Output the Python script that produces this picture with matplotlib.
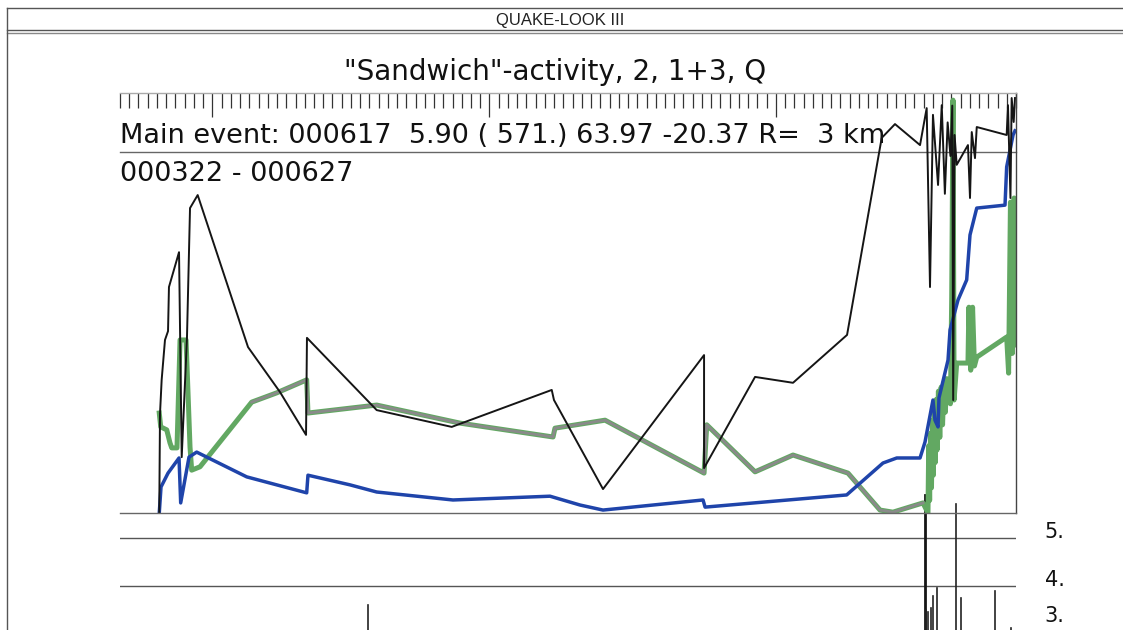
import numpy as np
import matplotlib
matplotlib.use("Agg")
import matplotlib.pyplot as plt

W, H = 1123, 630

# Observation window
START = np.datetime64("2000-03-22")
END = np.datetime64("2000-06-27")

header_text = "QUAKE-LOOK III"
title_text = '"Sandwich"-activity, 2, 1+3, Q'
main_event_text = "Main event: 000617  5.90 ( 571.) 63.97 -20.37 R=  3 km"
period_text = "000322 - 000627"

# Activity curves: day since START vs. normalised level
black_day = [4.25, 4.33, 4.51, 4.87, 5.20, 5.30, 6.39, 6.68, 7.25, 7.58, 8.41,
             13.86, 17.32, 20.14, 20.24, 27.79, 35.91, 46.74, 46.98, 52.29,
             63.23, 63.23, 68.75, 72.86, 78.71, 82.46, 83.90, 86.61, 87.33,
             87.69, 88.01, 88.56, 88.96, 89.30, 89.60, 89.90, 90.10, 90.20,
             90.35, 90.58, 91.80, 92.02, 92.21, 92.56, 92.75, 95.99, 96.13,
             96.40, 96.53, 96.75, 96.89]
black_val = [0.000, 0.236, 0.317, 0.412, 0.433, 0.538, 0.621, 0.133, 0.417,
             0.726, 0.757, 0.395, 0.288, 0.186, 0.417, 0.245, 0.205, 0.293,
             0.269, 0.057, 0.376, 0.107, 0.324, 0.310, 0.424, 0.893, 0.926,
             0.876, 0.964, 0.538, 0.948, 0.781, 0.971, 0.760, 0.930, 0.850,
             0.970, 0.269, 0.900, 0.829, 0.876, 0.750, 0.907, 0.845, 0.919,
             0.900, 0.971, 0.750, 0.988, 0.931, 0.988]

green_day = [4.25, 4.41, 5.06, 5.41, 5.60, 6.17, 6.50, 7.15, 7.58, 7.76, 8.66,
             14.26, 16.96, 20.21, 20.35, 27.79, 36.81, 46.88, 47.09, 52.51,
             63.23, 63.52, 68.75, 72.86, 78.81, 82.28, 83.68, 86.93, 87.47,
             87.55, 87.65, 87.75, 87.85, 87.95, 88.05, 88.15, 88.25, 88.35,
             88.45, 88.60, 88.75, 88.90, 89.05, 89.20, 89.35, 89.50, 89.64,
             89.90, 90.04, 90.18, 90.30, 90.58, 91.80, 91.90, 92.10, 92.30,
             92.50, 92.75, 95.99, 96.20, 96.40, 96.60, 96.80, 96.89]
green_val = [0.238, 0.205, 0.198, 0.167, 0.155, 0.155, 0.412, 0.412, 0.157,
             0.102, 0.110, 0.264, 0.286, 0.317, 0.238, 0.257, 0.214, 0.181,
             0.202, 0.221, 0.095, 0.210, 0.098, 0.138, 0.095, 0.007, 0.002,
             0.024, 0.000, 0.160, 0.030, 0.190, 0.060, 0.220, 0.090, 0.250,
             0.120, 0.270, 0.150, 0.290, 0.180, 0.300, 0.210, 0.310, 0.240,
             0.320, 0.317, 0.260, 0.514, 0.983, 0.269, 0.357, 0.357, 0.490,
             0.340, 0.490, 0.350, 0.371, 0.419, 0.333, 0.740, 0.380, 0.750,
             0.400]

blue_day = [4.25, 4.44, 5.20, 6.39, 6.57, 7.47, 8.30, 13.72, 20.21, 20.35,
            24.90, 27.79, 36.05, 46.55, 49.80, 52.29, 63.12, 63.34, 78.67,
            79.03, 82.60, 84.09, 86.61, 87.15, 88.01, 88.23, 88.56, 88.66,
            89.64, 89.86, 90.72, 91.66, 92.02, 92.75, 95.81, 95.99, 96.68,
            96.89]
blue_val = [0.000, 0.062, 0.095, 0.131, 0.024, 0.133, 0.145, 0.086, 0.048,
            0.090, 0.067, 0.050, 0.031, 0.040, 0.019, 0.007, 0.031, 0.014,
            0.043, 0.050, 0.119, 0.131, 0.131, 0.169, 0.269, 0.221, 0.205,
            0.274, 0.364, 0.436, 0.507, 0.555, 0.662, 0.726, 0.733, 0.824,
            0.900, 0.910]

# Stretch of the green curve that carries the grey overlay
gray_span = (13.0, 87.0)

# Events (day, magnitude) shown in the lower strip
mag_day = [26.80, 87.15, 87.30, 87.50, 87.75, 88.05, 88.45, 90.50, 91.05,
           94.70, 96.50]
mag_val = [3.60, 5.90, 3.50, 3.45, 3.55, 3.80, 3.96, 5.70, 3.75, 3.90, 3.12]
mag_levels = [5, 4, 3]
mag_labels = ["5.", "4.", "3."]

n_days = int((END - START) / np.timedelta64(1, "D"))
month_starts = np.arange(np.datetime64("2000-04"), np.datetime64("2000-07"),
                         np.timedelta64(1, "M")).astype("datetime64[D]")
month_days = ((month_starts - START) / np.timedelta64(1, "D")).tolist()

C_BLACK = "#151515"
C_GREEN = "#62a862"
C_GRAY = "#8a8a8a"
C_BLUE = "#1f44aa"
C_FRAME = "#555555"

plt.rcParams["font.family"] = ["DejaVu Sans"]

fig = plt.figure(figsize=(W / 100, H / 100), dpi=100)


def px_rect(x0, y0, x1, y1):
    return [x0 / W, 1 - y1 / H, (x1 - x0) / W, (y1 - y0) / H]


# Page frame and text, in pixel coordinates
ax_bg = fig.add_axes([0, 0, 1, 1], zorder=0)
ax_bg.set_xlim(0, W)
ax_bg.set_ylim(H, 0)
ax_bg.axis("off")
ax_bg.plot([7, W], [8, 8], color=C_FRAME, lw=1.0)
ax_bg.plot([7, W], [30, 30], color=C_FRAME, lw=1.0)
ax_bg.plot([7, W], [33, 33], color="#888", lw=1.0)
ax_bg.plot([7, 7], [8, H], color=C_FRAME, lw=1.0)
ax_bg.text(560, 21, header_text, ha="center", va="center", fontsize=12,
           family=["Liberation Sans Narrow", "Liberation Sans"], color="#222")
ax_bg.text(555, 80, title_text, ha="center", va="baseline", fontsize=20,
           color="#111")
ax_bg.text(120, 143, main_event_text, ha="left", va="baseline",
           fontsize=19.5, color="#111")
ax_bg.plot([120, 1016], [152, 152], color="#666", lw=1.0)
ax_bg.text(120, 181, period_text, ha="left", va="baseline", fontsize=19.5,
           color="#111")

# Activity panel
ax = fig.add_axes(px_rect(120, 93, 1016, 513), zorder=2)
ax.patch.set_visible(False)
ax.set_xlim(0, n_days)
ax.set_ylim(0, 1)
ax.set_yticks([])
ax.set_xticks(month_days)
ax.set_xticks(np.arange(0, n_days + 1), minor=True)
ax.tick_params(axis="x", which="both", top=True, bottom=False,
               labeltop=False, labelbottom=False, direction="in",
               color="#333", width=0.9)
ax.tick_params(axis="x", which="major", length=17)
ax.tick_params(axis="x", which="minor", length=10.5)
ax.spines["left"].set_visible(False)
ax.spines["top"].set_color("#aaa")
ax.spines["right"].set_color("#444")
ax.spines["bottom"].set_color("#666")
for s in ("top", "right", "bottom"):
    ax.spines[s].set_linewidth(1.0)

gd = np.array(green_day)
gv = np.array(green_val)
ax.plot(gd, gv, color=C_GREEN, lw=3.6, solid_joinstyle="round")
sel = (gd >= gray_span[0]) & (gd <= gray_span[1])
ax.plot(gd[sel], gv[sel], color=C_GRAY, lw=2.0, solid_joinstyle="round")
ax.plot(blue_day, blue_val, color=C_BLUE, lw=2.5, solid_joinstyle="round")
ax.plot(black_day, black_val, color=C_BLACK, lw=1.4, clip_on=False)

# Magnitude strip
ax_m = fig.add_axes(px_rect(120, 513, 1016, H), zorder=1)
ax_m.patch.set_visible(False)
ax_m.axis("off")
ax_m.set_xlim(0, n_days)
m_lo, m_hi = 5 - (H - 538) / 48, 5 + (538 - 513) / 48
ax_m.set_ylim(m_lo, m_hi)
for lev in mag_levels:
    ax_m.plot([0, n_days], [lev, lev], color="#555", lw=1.0)
main_mag = max(mag_val)
for d, m in zip(mag_day, mag_val):
    big = m == main_mag
    ax_m.plot([d, d], [m_lo, m], color=C_BLACK if big else "#222",
              lw=2.0 if big else 1.2, clip_on=False)
ytr = ax_m.get_yaxis_transform()
for lev, lab in zip(mag_levels, mag_labels):
    ax_m.text(1.032, max(lev, m_lo + 0.17), lab, transform=ytr,
              ha="left", va="baseline", fontsize=15, color="#111")

fig.savefig("out.png", dpi=100)
